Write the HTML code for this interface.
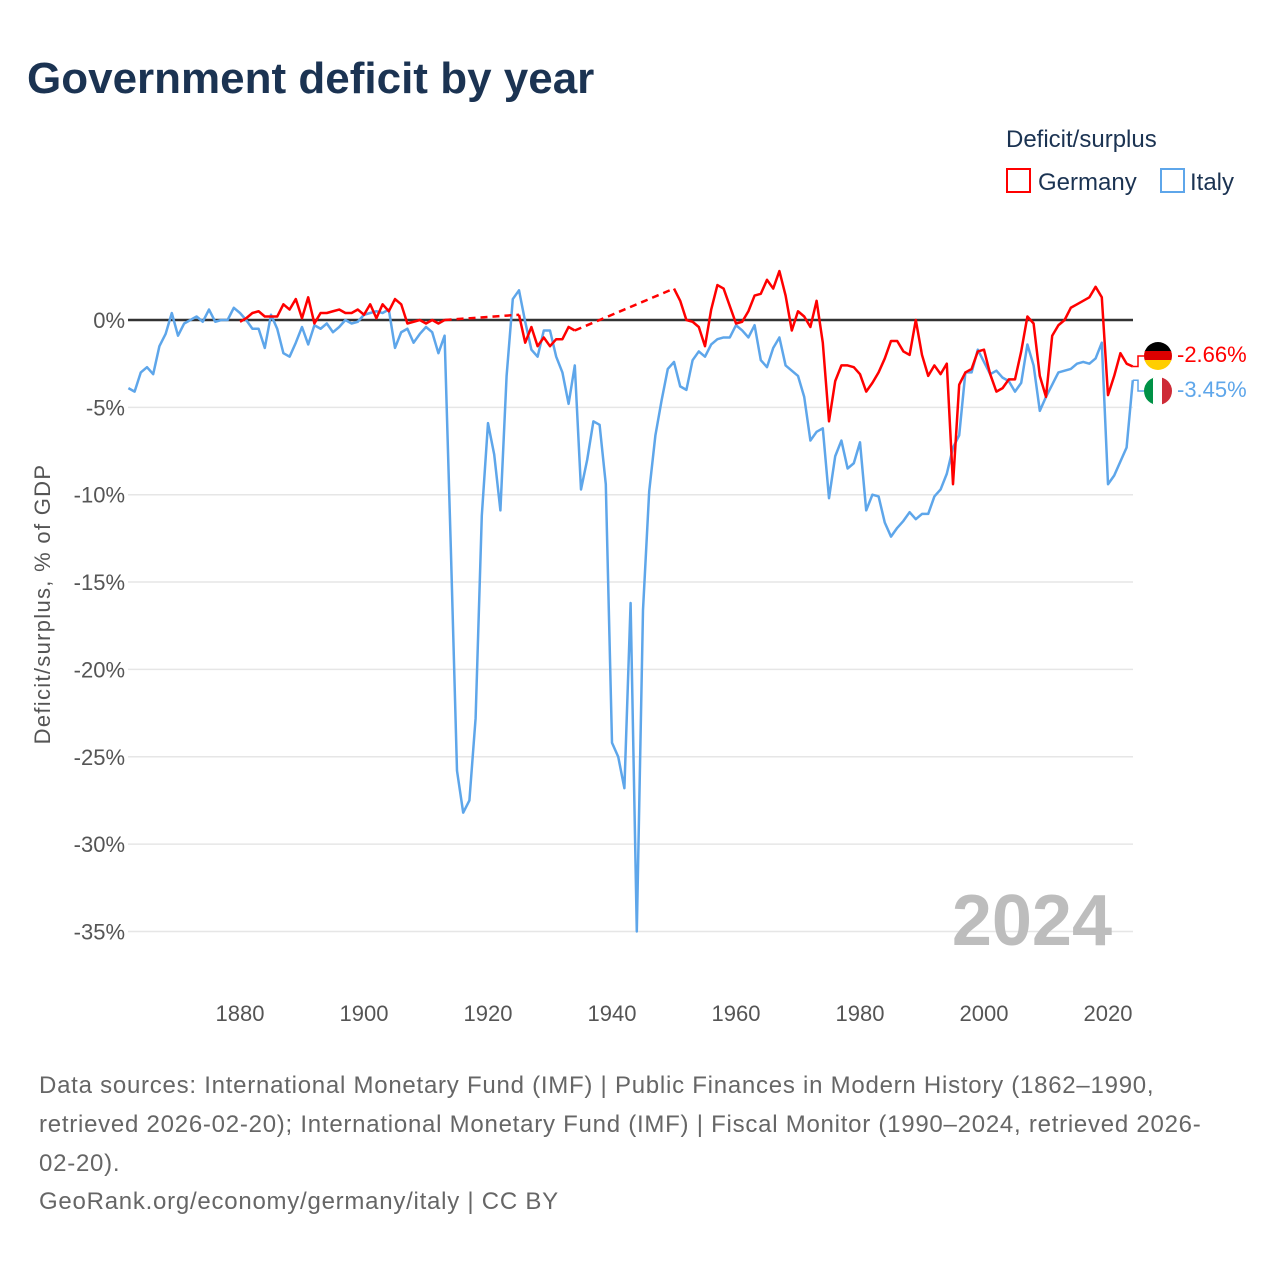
<!DOCTYPE html>
<html><head><meta charset="utf-8"><style>
body{margin:0;background:#fff;width:1280px;height:1280px;overflow:hidden;font-family:"Liberation Sans",sans-serif}
svg text{font-family:"Liberation Sans",sans-serif}
</style></head><body>
<svg id="chart" width="1280" height="1280" viewBox="0 0 1280 1280">
<text x="27" y="93" font-size="44" font-weight="bold" fill="#1b3352">Government deficit by year</text>
<text x="1006" y="147" font-size="24" fill="#1b3352">Deficit/surplus</text>
<g><rect x="1007" y="169" width="23" height="23" fill="none" stroke="#ff0000" stroke-width="2"/><text x="1038" y="190" font-size="24" fill="#1b3352">Germany</text></g>
<g><rect x="1161" y="169" width="23" height="23" fill="none" stroke="#5ea6ea" stroke-width="2"/><text x="1190" y="190" font-size="24" fill="#1b3352">Italy</text></g>
<g id="grid"></g><g id="yticks"></g><g id="xticks"></g>
<text transform="translate(50,604) rotate(-90)" text-anchor="middle" font-size="22" letter-spacing="1.3" fill="#555">Deficit/surplus, % of GDP</text>
<text x="1112" y="945" text-anchor="end" font-size="72" font-weight="bold" fill="#bdbdbd">2024</text>
<g id="series"></g>
<defs><clipPath id="cde"><circle cx="1158" cy="356" r="14"/></clipPath><clipPath id="cit"><circle cx="1158" cy="391" r="14"/></clipPath></defs>
<g clip-path="url(#cde)"><rect x="1144" y="342" width="28" height="10" fill="#000"/><rect x="1144" y="351" width="28" height="10" fill="#dd0000"/><rect x="1144" y="360" width="28" height="11" fill="#ffce00"/></g>
<g clip-path="url(#cit)"><rect x="1144" y="377" width="10" height="28" fill="#009246"/><rect x="1153" y="377" width="10" height="28" fill="#fff"/><rect x="1162" y="377" width="10" height="28" fill="#ce2b37"/></g>
<text x="1177" y="362" font-size="22" fill="#ff0000">-2.66%</text>
<text x="1177" y="397" font-size="22" fill="#5ea6ea">-3.45%</text>
<g font-size="24" fill="#666" letter-spacing="0.75">
<text x="39" y="1093">Data sources: International Monetary Fund (IMF) | Public Finances in Modern History (1862–1990,</text>
<text x="39" y="1132">retrieved 2026-02-20); International Monetary Fund (IMF) | Fiscal Monitor (1990–2024, retrieved 2026-</text>
<text x="39" y="1171">02-20).</text>
<text x="39" y="1209">GeoRank.org/economy/germany/italy | CC BY</text>
</g>
</svg>
<script>
const yTicks=[0,-5,-10,-15,-20,-25,-30,-35];
const xTicks=[1880,1900,1920,1940,1960,1980,2000,2020];
const italyStart=1862;
const italyValues=[-3.9,-4.1,-3.0,-2.7,-3.1,-1.5,-0.8,0.4,-0.9,-0.2,0,0.2,-0.1,0.6,-0.1,0,0,0.7,0.4,0,-0.5,-0.5,-1.6,0.3,-0.5,-1.9,-2.1,-1.3,-0.4,-1.4,-0.3,-0.5,-0.2,-0.7,-0.4,0,-0.2,-0.1,0.3,0.4,0.5,0.4,0.6,-1.6,-0.7,-0.5,-1.3,-0.8,-0.4,-0.7,-1.9,-0.9,
-13,-25.8,-28.2,-27.5,-22.8,-11.2,-5.9,-7.7,-10.9,-3.2,1.2,1.7,-0.1,-1.7,-2.1,-0.6,-0.6,-2.1,-3.0,-4.8,-2.6,-9.7,-8.0,-5.8,-6.0,-9.4,-24.2,-25,-26.8,-16.2,-35,-16.6,-9.8,-6.6,-4.6,-2.8,-2.4,-3.8,-4.0,-2.3,-1.8,-2.1,-1.4,-1.1,-1.0,-1.0,-0.3,-0.6,-1.0,-0.3,-2.3,-2.7,-1.6,-1.0,-2.6,-2.9,-3.2,-4.4,-6.9,-6.4,-6.2,-10.2,-7.8,-6.9,-8.5,-8.2,-7.0,-10.9,-10.0,-10.1,-11.6,-12.4,-11.9,-11.5,-11.0,-11.4,-11.1,-11.1,-10.1,-9.7,-8.8,-7.3,-6.6,-3.0,-3.0,-1.7,-2.4,-3.1,-2.9,-3.3,-3.5,-4.1,-3.6,-1.4,-2.6,-5.2,-4.4,-3.7,-3.0,-2.9,-2.8,-2.5,-2.4,-2.5,-2.2,-1.3,-9.4,-8.9,-8.1,-7.3,-3.45];
const germanyStart=1880;
const germanyValues=[-0.1,0.1,0.4,0.5,0.2,0.2,0.2,0.9,0.6,1.2,0.1,1.3,-0.2,0.4,0.4,0.5,0.6,0.4,0.4,0.6,0.3,0.9,0.1,0.9,0.5,1.2,0.9,-0.2,-0.1,0.0,-0.2,0.0,-0.2,0.0,
null,null,null,null,null,null,null,null,null,null,null,
0.3,-1.3,-0.4,-1.5,-1.0,-1.5,-1.1,-1.1,-0.4,-0.6,
null,null,null,null,null,null,null,null,null,null,null,null,null,null,null,
1.8,1.1,0,-0.1,-0.4,-1.5,0.6,2.0,1.8,0.8,-0.2,-0.1,0.5,1.4,1.5,2.3,1.8,2.8,1.4,-0.6,0.5,0.2,-0.4,1.1,-1.3,-5.8,-3.5,-2.6,-2.6,-2.7,-3.1,-4.1,-3.6,-3.0,-2.2,-1.2,-1.2,-1.8,-2.0,0.0,-2.0,-3.2,-2.6,-3.1,-2.5,-9.4,-3.7,-3.0,-2.8,-1.8,-1.7,-3.1,-4.1,-3.9,-3.4,-3.4,-1.8,0.2,-0.2,-3.2,-4.4,-0.9,-0.3,0.0,0.7,0.9,1.1,1.3,1.9,1.3,-4.3,-3.2,-1.9,-2.5,-2.66];
const NS='http://www.w3.org/2000/svg';
const X=yr=>240+(yr-1880)*6.2;
const Y=v=>320-v*17.47;
function mk(tag,attrs,parent){const e=document.createElementNS(NS,tag);for(const k in attrs)e.setAttribute(k,attrs[k]);parent.appendChild(e);return e;}
const grid=document.getElementById('grid'),yt=document.getElementById('yticks'),xt=document.getElementById('xticks'),ser=document.getElementById('series');
yTicks.forEach(t=>{
  if(t!==0){const g=mk('line',{x1:128,x2:1133,y1:Y(t),y2:Y(t),stroke:'#e6e6e6','stroke-width':1.5},grid);
  
  }
  const l=mk('text',{x:125,y:Y(t)+8,'text-anchor':'end','font-size':22,fill:'#555'},yt);l.textContent=t+'%';
  
  
});
xTicks.forEach(t=>{const l=mk('text',{x:X(t),y:1021,'text-anchor':'middle','font-size':22,fill:'#555'},xt);l.textContent=t;
  
  });
function draw(start,vals,color,name){
  let segs=[],cur=[];
  vals.forEach((v,i)=>{if(v===null){if(cur.length)segs.push(cur);cur=[];}else cur.push([X(start+i),Y(v)]);});
  if(cur.length)segs.push(cur);
  segs.forEach((s,i)=>{
    const p=mk('polyline',{points:s.map(q=>q.join(',')).join(' '),fill:'none',stroke:color,'stroke-width':2.5,'stroke-linejoin':'round'},ser);
    
    
    if(i>0){const a=segs[i-1][segs[i-1].length-1],b=s[0];
      const d=mk('line',{x1:a[0],y1:a[1],x2:b[0],y2:b[1],stroke:color,'stroke-width':2.5,'stroke-dasharray':'7,5'},ser);
      
      }
  });
  return segs[segs.length-1][segs[segs.length-1].length-1];
}
const zl=mk('line',{x1:128,x2:1133,y1:Y(0),y2:Y(0),stroke:'#333','stroke-width':2.5},ser);


const ie=draw(italyStart,italyValues,'#5ea6ea','italy');
const ge=draw(germanyStart,germanyValues,'#ff0000','germany');
const c1=mk('polyline',{points:`${ge[0]},${ge[1]} 1138,${ge[1]} 1138,356 1144,356`,fill:'none',stroke:'#ff0000','stroke-width':1.5},ser);


const c2=mk('polyline',{points:`${ie[0]},${ie[1]} 1138,${ie[1]} 1138,391 1144,391`,fill:'none',stroke:'#5ea6ea','stroke-width':1.5},ser);


</script>
</body></html>
